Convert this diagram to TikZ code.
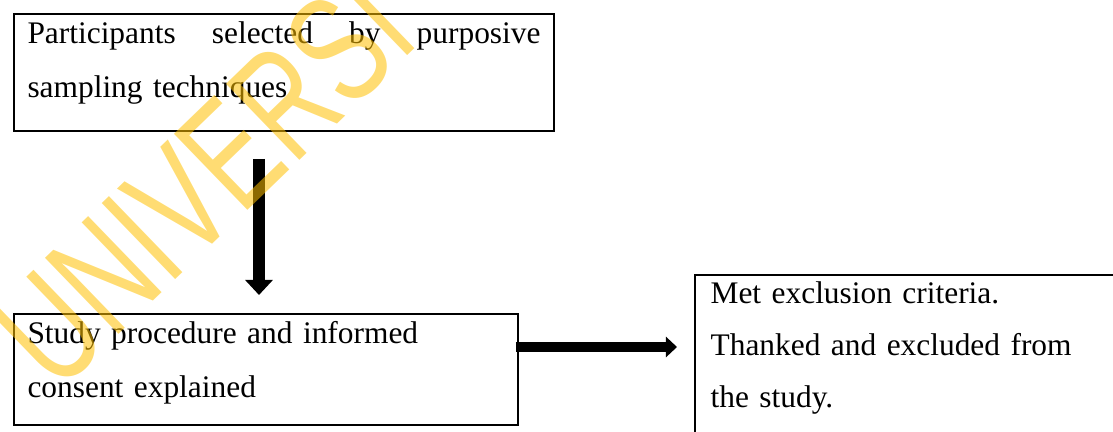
\documentclass[tikz,border=0pt]{standalone}
\usepackage{fontspec}
\setmainfont{Liberation Serif}
\newfontfamily\wmfont{Liberation Sans}
\usetikzlibrary{arrows.meta}
\definecolor{wmgold}{RGB}{255,192,0}

\begin{document}
\begin{tikzpicture}[x=0.3774pt, y=-0.3774pt,
	box/.style={draw, line width=0.75pt, anchor=north west, align=left, inner ysep=0pt, inner xsep=5.1pt, font=\fontsize{11.85}{20.4}\selectfont},
	downarrow/.style={line width=4.9pt, -{Triangle[width=10.2pt, length=5.7pt]}},
	sidearrow/.style={line width=3.8pt, -{Triangle[width=7.6pt, length=4.2pt]}},
	wm/.style={anchor=center, rotate=44, xscale=0.7, inner sep=0pt, text=wmgold, text opacity=0.55, font=\wmfont\fontsize{58}{58}\selectfont}]
	\clip (0,0) rectangle (1113,431);
	\node (1) [box, text width=193.6pt, text height=11.3pt, text depth=32.8pt] at (13,13) {Participants \hfill selected \hfill by \hfill purposive\\sampling techniques};
	\node (2) [box, text width=180pt, text height=11.3pt, text depth=30.6pt] at (13,313) {Study procedure and informed\\consent explained};
	\node (3) [box, inner xsep=5.9pt, text width=160pt, text height=10.9pt, text depth=75pt, font=\fontsize{11.85}{19.6}\selectfont] at (694,274) {Met exclusion criteria.\\Thanked and excluded from\\the study.};

	\draw[downarrow] ([shift={(246,27)}]1.south west) to ([shift={(246,-18)}]2.north west);
	\draw[sidearrow] ([shift={(-3,34)}]2.north east) to ([shift={(-17,73)}]3.north west);

	\node (4) [wm] at (203,180) {UNIVERSI};
\end{tikzpicture}
\end{document}
